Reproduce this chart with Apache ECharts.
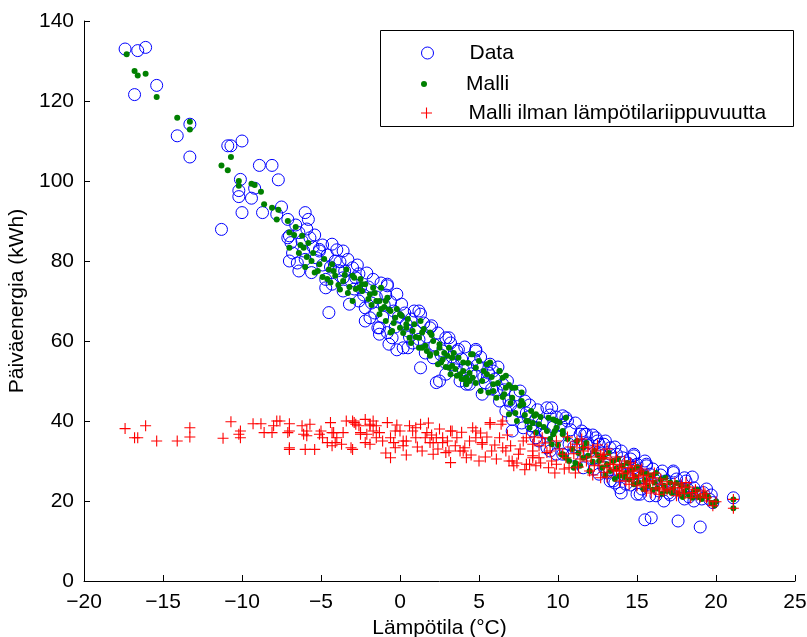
<!DOCTYPE html>
<html>
<head>
<meta charset="utf-8">
<script src="https://cdn.jsdelivr.net/npm/echarts@6/dist/echarts.min.js"></script>
<style>html,body{margin:0;padding:0;background:#fff}#c{width:807px;height:637px}</style>
</head>
<body>
<div id="c"></div>
<script>
// ---- Data: [temperature °C, daily energy kWh] ----
var seriesNames = ['Data', 'Malli', 'Malli ilman lämpötilariippuvuutta'];
var xTicks = [-20, -15, -10, -5, 0, 5, 10, 15, 20, 25];
var yTicks = [0, 20, 40, 60, 80, 100, 120, 140];

var dataPoints = [
[-17.4,133.0],[-16.6,132.6],[-16.1,133.4],[-16.8,121.6],[-15.4,123.9],[-13.3,114.2],[-14.1,111.3],[-13.3,106.0],[-11.3,87.9],[-10.9,108.8],
[-10.7,108.8],[-10.0,110.0],[-10.1,100.4],[-10.2,97.6],[-10.2,96.1],[-9.4,95.7],[-9.2,98.2],[-10.0,92.1],[-8.9,103.9],[-8.1,103.9],
[-7.7,100.3],[-8.7,92.1],[-7.8,91.7],[-7.1,90.4],[-6.0,92.1],[-5.8,90.4],
[-7.0,86.3],[-7.0,80.0],[-6.4,87.1],[-5.7,85.8],[-6.1,82.5],[-5.1,82.9],[-4.3,84.2],[-3.6,82.5],[-3.3,80.4],[-4.7,75.4],
[-4.3,74.2],[-4.5,67.1],[-3.6,75.8],[-1.7,75.4],[-0.8,74.2],[-0.2,71.7],[0.1,69.2],[-2.2,68.3],[-1.9,65.8],[-1.3,63.3],
[-0.7,59.2],[0.2,58.3],[1.3,66.7],[1.9,63.3],[1.3,53.3],[2.3,49.6],[2.9,60.8],[3.6,57.5],[4.8,57.5],[5.7,54.2],[4.4,49.2],[5.2,46.7],
[-7.1,85.8],[-6.9,84.6],[-6.0,80.4],[-5.1,82.5],[-4.1,80.0],[-2.8,75.8],[-0.8,73.8],[-2.6,70.0],[-1.4,63.3],[-0.8,62.1],
[0.4,64.2],[0.9,67.5],[-5.6,77.1],[-6.4,77.5],[-4.7,73.3],[-3.6,72.5],[-2.5,73.3],[-3.2,69.2],[-2.2,65.0],[-1.3,61.7],[-0.5,60.8],[1.0,62.5],
[1.2,67.5],[2.0,63.8],[1.2,60.4],[0.5,58.3],[3.1,60.8],[3.7,57.9],[4.8,57.9],[4.7,55.4],[2.5,50.0],[2.9,51.7],
[4.2,49.2],[5.9,52.5],[6.5,49.2],[7.6,47.5],[6.7,42.5],[7.1,40.4],[9.3,43.3],[4.8,51.3],[3.8,50.0],[2.1,55.8],
[-7.5,93.5],[-6.6,89.0],[-5.4,86.5],[-4.9,79.0],[-3.9,77.6],[-3.0,78.3],[-2.1,77.0],[-1.5,71.0],[-0.4,67.5],[-1.0,69.0],
[0.6,61.0],[1.6,57.0],[2.6,56.5],[3.4,54.0],[4.0,52.8],[5.3,51.0],[6.1,47.6],[6.9,45.0],[8.0,42.0],[8.6,40.5],[9.9,41.0],[8.2,44.0],
[7.1,37.5],[8.6,38.3],[9.6,43.3],[10.3,41.3],[10.5,40.8],[11.4,36.7],[12.4,35.8],[12.9,34.2],[13.3,31.7],[14.1,30.8],
[14.8,28.3],[15.4,25.8],[14.3,24.2],[15.0,21.7],[8.6,35.8],[9.5,32.5],[10.3,31.7],[11.5,37.5],[11.7,36.7],[13.0,35.0],
[12.6,34.2],[14.8,31.3],[15.6,28.8],[17.3,27.1],[18.1,25.0],[19.2,22.1],[19.8,19.6],[18.6,20.0],[15.2,21.7],[16.2,21.3],[13.9,23.3],[13.3,25.0],
[15.5,15.3],[15.9,15.8],[17.6,15.0],[19.0,13.5],[21.1,20.8],
[10.6,40.0],[11.8,36.7],[12.5,35.0],[13.7,31.7],[15.0,29.2],[15.8,26.7],[16.2,25.8],[7.8,38.3],[8.4,37.5],[8.8,35.0],
[9.3,33.3],[9.9,31.7],[10.7,34.2],[11.6,28.3],[12.6,26.7],[13.5,25.0],
[13.3,33.3],[14.8,31.7],[15.6,29.2],[15.8,21.3],[16.7,20.0],[17.3,27.5],[18.0,25.8],[18.6,23.3],[19.6,20.4],[13.9,27.5],
[16.9,24.2],[17.9,22.5],[14.4,29.5],[16.5,26.5],[12.0,32.5],[11.0,33.5],[17.0,22.0],[18.3,21.0],
[-6.8,82.0],[-6.5,79.5],[-6.2,85.0],[-5.9,88.0],[-5.5,83.5],[-5.3,80.8],[-4.9,84.0],[-4.6,81.5],[-4.4,78.5],[-4.0,82.8],
[-3.8,79.8],[-3.5,77.5],[-3.1,75.0],[-2.7,79.0],
[-2.9,73.0],[-2.6,76.8],[-2.3,71.5],[-2.0,73.5],[-1.8,69.5],[-1.6,67.0],[-1.2,74.5],[-1.1,66.0],[-0.9,71.5],[-0.6,69.8],
[-0.3,63.5],[-0.1,66.0],[0.3,67.0],[0.5,62.5],[0.7,65.5],[0.8,59.5],[-0.2,57.8],
[1.5,64.5],[1.7,61.0],[2.2,59.0],[2.4,62.0],[2.7,57.5],[2.9,54.5],[3.2,59.5],[3.3,56.0],[3.5,52.8],[3.9,55.5],
[4.1,58.5],[4.3,53.5],[4.5,51.8],[4.9,54.0],[5.1,56.0],[5.4,49.5],[5.6,52.0],[5.8,48.0],[6.0,50.5],[6.2,53.5],
[6.3,45.0],[6.6,47.8],[6.8,50.0],[7.0,44.0],[7.3,46.5],[7.5,42.5],[7.7,39.5],[7.9,45.0],[8.1,41.0],[8.3,38.8],
[8.7,42.8],[9.0,39.5],[9.2,37.0],[9.5,41.5],[9.7,38.5],[10.0,36.0],[10.2,39.0],[10.8,37.8],[11.1,39.5],[10.9,31.5],
[11.3,34.0],[11.9,34.5],[12.2,36.5],[12.2,30.5],[12.8,32.0],[13.1,27.0],[13.6,33.5],[14.0,32.5],[14.2,26.5],[14.6,30.5],
[14.6,24.0],[15.1,27.0],[15.3,23.0],[15.5,30.0],[15.9,24.5],[16.0,28.0],[16.4,22.5],[16.6,27.5],[16.8,25.0],[17.1,21.5],
[17.5,25.5],[17.7,23.5],[18.0,20.5],[18.2,23.0],[18.5,26.0],[18.8,22.0],[19.1,20.5],[19.4,23.0],[19.7,21.5],[14.0,22.0],
[13.6,24.5],[12.9,28.5],[12.3,28.0],[11.7,32.0]
];

var modelPoints = [
[-17.3,131.7],[-16.8,127.5],[-16.6,126.4],[-16.1,126.8],[-15.4,121.0],[-14.1,115.8],[-13.3,114.8],[-13.3,112.9],[-11.3,103.9],[-10.9,102.7],
[-10.7,106.0],[-10.2,100.0],[-10.2,98.8],[-9.4,99.3],[-9.2,99.0],[-8.8,97.3],[-8.6,94.2],[-8.1,93.3],[-7.7,92.8],[-7.8,90.4],
[-7.1,90.0],[-7.0,87.1],[-7.0,83.3],
[-6.2,86.3],[-6.1,83.3],[-5.9,81.0],[-6.0,78.5],[-5.4,77.1],[-5.1,79.2],[-4.5,77.9],[-4.3,79.2],[-4.1,76.3],[-4.4,74.6],
[-3.8,72.9],[-3.4,77.9],[-2.9,75.8],[-2.6,73.3],[-2.2,74.2],[-1.9,71.7],[-1.5,70.0],[-3.0,70.0],[-1.2,73.3],[-0.8,70.8],
[-1.3,66.7],[-0.6,67.5],[-0.9,65.0],[-0.3,65.8],[0.0,63.3],[-0.6,62.1],[0.4,64.2],[0.8,62.5],[1.3,65.0],[1.2,60.8],
[1.9,62.1],[2.1,60.0],[1.4,58.3],[2.5,58.3],[1.9,56.7],[3.1,58.3],[2.4,54.2],[3.3,55.8],[4.0,54.6],[4.6,56.7],
[3.1,53.3],[3.8,51.7],[4.6,50.8],[5.5,51.7],[5.1,47.5],[5.7,54.6],[4.2,49.2],[6.1,45.8],
[-6.6,88.5],[-6.3,84.0],[-5.6,80.0],[-4.9,76.0],[-3.6,75.0],[-3.2,73.5],[-2.4,72.5],[-1.0,68.5],[-1.8,69.0],
[-3.0,76.3],[-2.4,74.2],[-1.7,73.3],[-1.3,70.0],[-0.7,67.9],[0.0,66.7],[-0.5,62.5],[0.4,63.3],[0.6,60.8],[1.4,62.1],
[1.2,58.3],[1.9,56.3],[2.7,55.4],[3.6,51.3],[4.2,50.8],[4.0,52.5],[4.8,53.3],[5.5,54.2],[5.2,50.0],[5.9,49.2],
[6.3,52.5],[6.5,50.8],[6.7,48.3],[7.1,48.3],[7.7,47.1],[6.6,46.7],[7.6,43.8],[6.9,41.7],[7.4,40.0],[8.1,40.0],
[8.6,41.7],[8.2,38.3],[8.6,37.1],[9.3,37.5],[9.9,40.0],[10.3,37.5],[9.7,36.7],[10.3,31.7],[10.7,30.0],[11.2,35.0],[11.6,30.8],
[0.1,66.3],[0.9,64.2],[1.6,58.8],[2.5,59.2],[3.0,56.3],[2.6,54.6],[3.3,53.8],[3.2,51.7],[3.7,55.8],[4.5,56.7],
[4.1,50.4],[4.4,50.0],[5.6,47.1],[6.3,52.5],[6.7,51.3],[7.3,48.3],[7.1,45.8],[7.8,44.2],[8.5,41.3],[8.8,39.2],
[9.7,40.4],[10.1,39.6],[10.5,40.8],[9.9,38.3],[10.3,36.7],[9.6,34.2],[10.2,31.7],[10.5,30.8],[11.0,28.3],[11.4,28.8],[8.0,40.0],
[11.6,33.3],[11.9,31.3],[12.2,29.8],[12.3,32.5],[12.6,30.0],[12.8,28.3],[12.9,31.0],[13.1,29.2],[13.3,27.5],[13.5,30.0],
[13.7,28.1],[13.9,26.3],[14.1,28.8],[14.3,27.0],[14.5,25.4],[14.7,27.9],[14.9,26.0],[15.1,24.6],[15.3,27.1],[15.5,25.2],
[15.7,23.8],[15.9,26.3],[16.1,24.6],[16.3,23.1],[16.5,25.4],[16.7,23.8],[16.9,22.5],[17.1,24.6],[17.3,23.1],[17.6,21.9],
[17.8,23.8],[18.0,22.3],[18.3,21.3],[18.6,22.5],[18.9,21.0],[19.3,21.7],[19.7,19.5],[21.1,20.4],[21.1,18.2],[20.0,19.9],
[-6.7,86.5],[-6.4,82.0],[-5.8,84.5],[-5.5,82.0],[-5.2,77.5],[-4.8,80.5],[-4.6,75.5],[-4.2,77.5],[-3.9,74.0],[-3.5,76.5],
[-3.3,72.0],[-2.8,73.0],[-2.5,75.5],[-2.0,70.5],[-1.6,72.0],[-1.2,68.0],[-0.9,70.0],[-0.4,64.5],[-0.2,68.0],[0.2,62.0],
[0.5,65.5],[0.7,59.5],[1.0,61.0],[1.5,63.0],[1.7,57.5],[2.0,61.5],[2.3,57.0],[2.8,57.0],[2.9,53.5],[3.4,57.0],
[3.5,53.0],[3.9,50.5],[4.3,54.5],[4.4,52.0],[4.8,49.5],[5.0,55.0],[5.3,52.5],[5.8,51.0],[5.9,47.5],[6.2,49.5],
[6.5,46.0],[6.9,49.0],[7.0,44.5],[7.3,42.0],[7.7,45.0],[7.9,41.5],[8.3,42.5],[8.4,39.5],[8.9,41.0],[9.1,38.5],
[9.4,40.8],[9.5,35.5],[9.8,37.5],[10.0,34.0],[10.6,35.5],[10.9,33.0],[11.3,32.0],[11.1,29.5],
[11.8,34.5],[12.0,27.5],[12.5,31.5],[13.0,26.5],[13.2,32.0],[13.6,25.5],[13.8,30.5],[14.2,26.0],[14.4,29.5],[14.8,24.2],
[15.0,28.5],[15.4,23.0],[15.6,26.8],[16.0,22.8],[16.2,27.0],[16.6,21.8],[16.8,25.8],[17.2,22.0],[17.5,24.5],[17.9,21.0],
[18.2,23.5],[18.5,20.8],[18.8,22.8],[19.1,20.5],[19.5,21.0],[19.9,18.9]
];

var noTempPoints = [
[-17.4,38.1],[-16.8,35.8],[-16.6,35.8],[-16.1,38.8],[-15.4,35.0],[-14.1,35.0],[-13.3,38.3],[-13.3,36.0],[-11.2,35.7],[-10.7,39.8],
[-10.1,37.5],[-10.1,35.8],[-10.2,36.7],[-9.3,39.3],[-8.8,39.3],[-8.6,37.1],[-7.8,40.0],[-8.1,37.1],[-7.0,39.3],[-7.1,37.1],
[-7.0,32.9],[-6.2,38.8],[-6.1,36.7],[-5.7,39.2],[-6.0,32.9],[-5.4,32.9],[-5.1,36.7],[-4.6,34.6],[-4.3,37.1],[-4.1,34.6],
[-4.3,33.8],[-3.4,40.0],[-3.6,37.1],[-3.0,32.9],[-2.8,39.2],[-2.5,36.7],[-2.1,36.7],[-1.9,34.2],[-1.7,40.0],[-1.7,37.5],[-1.5,38.8],
[-8.0,38.8],[-7.6,40.0],[-7.0,37.5],[-7.0,33.3],[-5.9,37.5],[-5.9,36.3],[-5.0,37.5],[-4.9,35.8],[-4.4,39.6],[-4.2,37.1],
[-4.0,35.8],[-3.7,34.2],[-3.1,33.3],[-2.9,39.6],[-2.6,38.8],[-2.2,40.4],[-1.9,38.8],[-2.2,34.6],[-1.5,35.8],[-1.3,37.1],
[-0.8,39.6],[-0.6,35.8],[-0.4,34.6],[-0.6,30.8],[-0.3,33.3],[0.0,37.5],[0.2,33.8],[0.4,35.0],[0.8,37.5],[1.0,35.8],
[1.3,39.2],[1.4,32.5],[1.7,37.1],[1.9,34.6],[2.1,31.7],[2.3,35.8],[2.7,34.6],[2.9,32.1],[3.2,37.5],[3.2,29.6],
[3.6,35.8],[3.8,32.5],[4.1,33.3],[4.2,30.8],[4.6,38.3],[4.8,35.8],[5.0,30.0],[5.2,34.6],[5.7,39.6],[5.8,32.5],
[6.3,35.8],[6.4,39.2],[6.5,33.3],[6.9,30.0],[7.2,28.8],[7.5,31.7],[8.0,29.2],[8.4,31.3],[8.6,28.8],[8.8,33.8],[9.3,32.1],
[-3.0,40.0],[-1.9,39.2],[-2.5,37.1],[-0.3,37.5],[0.2,35.0],[1.0,38.3],[1.6,35.8],[2.1,34.6],[2.7,35.8],[3.3,37.5],
[3.1,32.5],[4.0,32.5],[4.8,37.5],[5.7,39.2],[6.5,40.0],[5.2,34.2],[6.7,32.5],[7.1,30.0],[7.8,35.0],[8.4,34.2],
[8.4,30.8],[9.0,35.8],[9.5,32.5],[9.9,29.2],[10.5,30.8],[11.2,34.2],[11.6,32.5],[12.0,27.5],[12.8,30.8],[13.7,27.5],[14.7,25.8],[15.4,24.2],
[8.0,35.8],[8.4,32.5],[8.2,29.2],[8.8,30.8],[9.4,28.3],[9.9,35.0],[10.3,31.7],[10.7,28.3],[11.2,35.0],[11.6,33.3],
[11.8,30.0],[12.4,32.5],[12.9,30.8],[13.1,28.3],[13.5,29.2],[13.9,27.5],[14.5,28.3],[14.8,25.8],[15.2,27.5],[15.6,25.0],[16.0,25.8],[16.4,23.3],
[12.9,31.7],[13.3,29.2],[14.0,28.3],[14.7,27.5],[15.4,26.3],[16.0,25.0],[16.6,24.2],[17.3,23.3],[17.9,23.3],[18.1,24.6],
[18.5,22.1],[19.2,22.5],[19.4,20.8],[19.8,18.8],[12.7,25.8],[13.9,25.0],[14.5,24.2],[15.6,22.5],[16.4,21.7],[17.5,21.3],
[21.1,20.4],[21.1,18.2],[10.8,33.5],[11.4,30.5],[12.2,33.0],[12.6,29.0],[15.0,23.8],[16.9,22.8],[17.7,22.0],[18.8,21.5],[20.0,19.8],
[-1.1,35.0],[-0.9,32.0],[-0.2,39.0],[0.4,31.5],[0.6,38.8],[1.1,33.5],[1.8,39.5],[2.0,36.5],[2.4,33.0],[2.5,38.0],
[3.0,35.0],[3.5,33.8],[3.9,37.2],[4.4,35.0],[4.5,31.5],[5.1,37.0],[5.4,31.0],[5.5,36.0],[6.0,34.0],[6.1,30.5],
[6.8,36.5],[7.0,33.8],[7.4,29.5],[7.6,33.0],[7.9,27.8],[8.5,36.0],[8.9,29.5],[9.2,34.5],[9.6,30.0],[9.8,27.0],
[10.1,33.0],[10.4,28.0],[10.6,36.0],
[11.0,31.8],[11.3,28.5],[11.5,35.5],[11.9,33.5],[12.1,31.0],[12.3,28.8],[12.5,34.0],[12.7,31.5],[12.9,27.2],[13.1,33.0],
[13.3,30.5],[13.5,27.8],[13.7,31.0],[13.9,29.0],[14.1,26.8],[14.2,30.0],[14.4,27.0],[14.6,29.5],[14.8,26.5],[14.9,28.8],
[15.1,26.0],[15.3,28.0],[15.5,23.5],[15.7,26.5],[15.8,24.5],[16.1,27.0],[16.2,23.0],[16.5,25.5],[16.7,22.5],[16.9,24.8],
[17.1,23.0],[17.4,24.5],[17.6,22.5],[17.8,24.0],[18.0,21.8],[18.3,23.5],[18.4,20.8],[18.7,22.8],[19.0,21.0],[19.3,21.8],
[19.6,20.0],[15.9,22.0],[14.3,25.0],[13.1,26.0],[12.2,26.5],[11.1,27.0]
];

// ---- Chart ----
var FONT = '"Liberation Sans", Arial, Helvetica, sans-serif';
var FS = 21;
var plusPath = 'path://M0,4.5h10v1h-10z M4.5,0h1v10h-1z';
var minusFmt = function (v) { return v < 0 ? '\u2212' + Math.abs(v) : String(v); };

function legendFor(name, top, icon, size, style) {
  return {
    show: true, orient: 'vertical', left: 421, top: top, padding: 0, itemGap: 0,
    itemWidth: 74, itemHeight: size, selectedMode: false,
    textStyle: { fontFamily: FONT, fontSize: FS, color: '#000', lineHeight: 22, padding: [6, 0, 0, 0] },
    data: [{ name: name, icon: icon, itemStyle: style }]
  };
}

var chart = echarts.init(document.getElementById('c'), null, { renderer: 'canvas' });
chart.setOption({
  animation: false,
  backgroundColor: '#ffffff',
  grid: { left: 84, right: 12, top: 21, bottom: 56, containLabel: false, outerBoundsMode: 'none' },
  xAxis: {
    type: 'value', min: xTicks[0], max: xTicks[xTicks.length - 1], interval: 5,
    name: 'Lämpötila (°C)', nameLocation: 'middle', nameGap: 35,
    nameTextStyle: { fontFamily: FONT, fontSize: FS, color: '#000' },
    axisLine: { onZero: false, lineStyle: { color: '#000', width: 1 } },
    axisTick: { inside: true, length: 6, lineStyle: { color: '#000' } },
    axisLabel: { fontFamily: FONT, fontSize: FS, color: '#000', margin: 11, formatter: minusFmt },
    splitLine: { show: false }
  },
  yAxis: {
    type: 'value', min: yTicks[0], max: yTicks[yTicks.length - 1], interval: 20,
    name: 'Päiväenergia (kWh)', nameLocation: 'middle', nameGap: 46,
    nameTextStyle: { fontFamily: FONT, fontSize: FS, color: '#000' },
    axisLine: { show: true, onZero: false, lineStyle: { color: '#000', width: 1 } },
    axisTick: { show: true, inside: true, length: 6, lineStyle: { color: '#000' } },
    axisLabel: { fontFamily: FONT, fontSize: FS, color: '#000', margin: 10 },
    splitLine: { show: false }
  },
  legend: [
    legendFor(seriesNames[0], 39, 'circle', 12, { color: 'transparent', borderColor: '#0000ff', borderWidth: 1 }),
    legendFor(seriesNames[1], 70, 'circle', 6, { color: '#008000', borderWidth: 0 }),
    legendFor(seriesNames[2], 99, plusPath, 11, { color: '#ff0000', borderWidth: 0 })
  ],
  graphic: [{
    type: 'rect', silent: true, z: 100,
    shape: { x: 380.5, y: 30.5, width: 413, height: 96 },
    style: { fill: 'none', stroke: '#000', lineWidth: 1 }
  }],
  series: [
    {
      name: seriesNames[0], type: 'scatter', data: dataPoints, symbol: 'circle', symbolSize: 12,
      itemStyle: { color: 'transparent', borderColor: '#0000ff', borderWidth: 1, opacity: 1 },
      silent: true, z: 2
    },
    {
      name: seriesNames[1], type: 'scatter', data: modelPoints, symbol: 'circle', symbolSize: 6,
      itemStyle: { color: '#008000', borderWidth: 0, opacity: 1 },
      silent: true, z: 3
    },
    {
      name: seriesNames[2], type: 'scatter', data: noTempPoints, symbol: plusPath, symbolSize: 11,
      itemStyle: { color: '#ff0000', borderWidth: 0, opacity: 1 },
      silent: true, z: 4
    }
  ]
});
</script>
</body>
</html>
